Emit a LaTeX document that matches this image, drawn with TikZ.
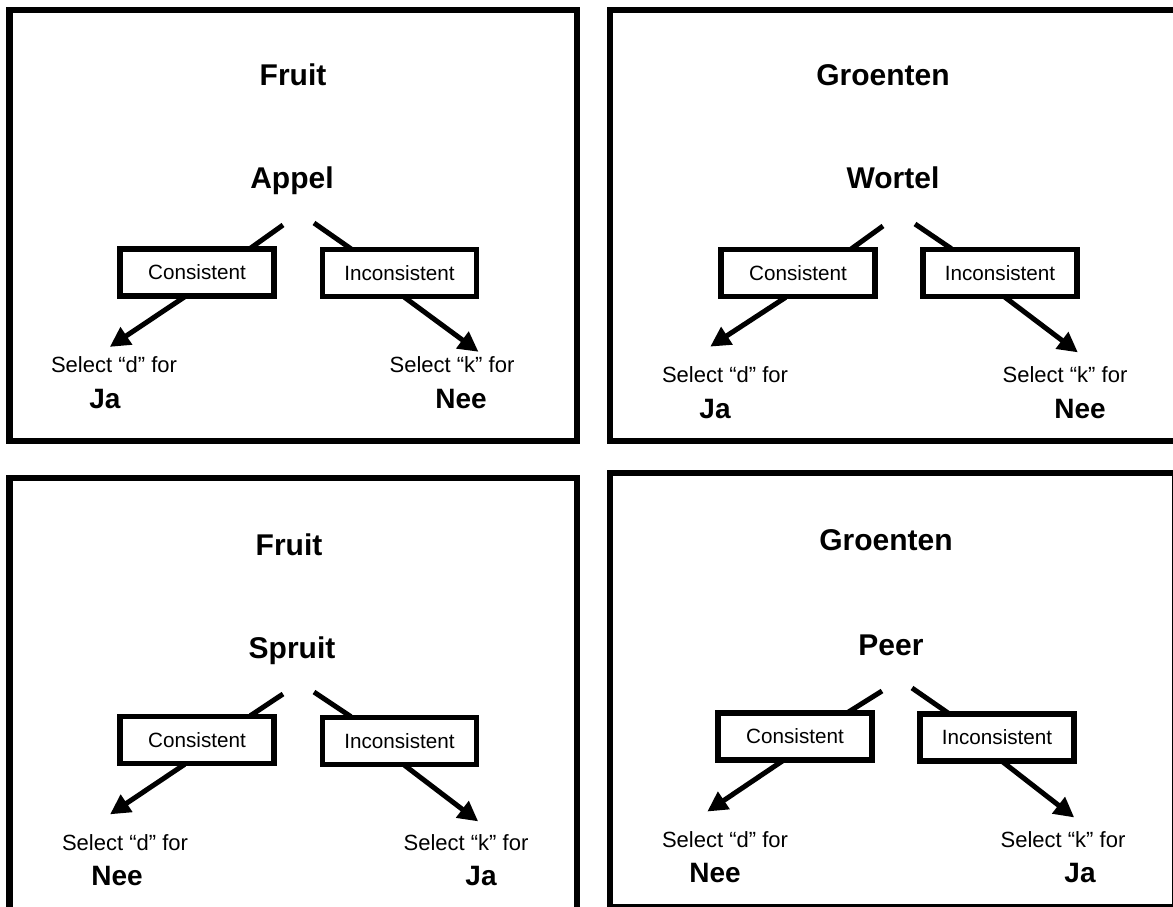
\documentclass[tikz,border=0pt]{standalone}
\usepackage{fontspec}
\setmainfont{Liberation Sans}
\usetikzlibrary{arrows.meta}

\begin{document}
\begin{tikzpicture}[
  x=0.75pt,y=-0.75pt,
  panel/.style={draw,line width=5pt},
  heading/.style={anchor=base,inner sep=0pt,font=\fontsize{22.5}{27}\selectfont\bfseries},
  choice/.style={rectangle,draw,line width=4pt,fill=white,minimum width=115.5pt,minimum height=35.25pt,inner sep=0pt,font=\fontsize{15.5}{18}\selectfont},
  prompt/.style={anchor=base,inner sep=3pt,font=\fontsize{16.5}{20}\selectfont},
  answer/.style={anchor=base,inner sep=0pt,font=\fontsize{21}{25}\selectfont\bfseries},
  stub/.style={line width=3.75pt,shorten >=-2.5pt},
  pick/.style={line width=3.75pt,shorten <=-2.5pt,-{Triangle[length=15pt,width=15pt]}},
]
\clip (0,0) rectangle (1173,906);
\fill[white] (0,0) rectangle (1173,906);

\draw[panel] (9.5,10) rectangle (577,441);
\node (tlcat) [heading] at (293,85) {Fruit};
\node (tlword) [heading] at (292,188) {Appel};
\node (tlcon) [choice] at (197,272.5) {Consistent};
\node (tlinc) [choice] at (399.5,273) {Inconsistent};
\node (tlsd) [prompt] at (114,372) {Select “d” for};
\node (tlsk) [prompt] at (452,372) {Select “k” for};
\node (tlleft) [answer] at (105,408) {Ja};
\node (tlright) [answer] at (461,408) {Nee};
\coordinate (tlL) at (283,225);
\coordinate (tlR) at (314,223);
\draw[stub] (tlL) -- (tlcon.25);
\draw[stub] (tlR) -- (tlinc.153);
\draw[pick,shorten >=6.6pt] (tlcon.240) -- (tlsd.133);
\draw[pick] (tlinc.286) -- (tlsk.25);

\draw[panel] (610,10) rectangle (1178,441);
\node (trcat) [heading] at (883,85) {Groenten};
\node (trword) [heading] at (893,188) {Wortel};
\node (trcon) [choice] at (798,273) {Consistent};
\node (trinc) [choice] at (1000,273) {Inconsistent};
\node (trsd) [prompt] at (725,382) {Select “d” for};
\node (trsk) [prompt] at (1065,382) {Select “k” for};
\node (trleft) [answer] at (715,418) {Ja};
\node (trright) [answer] at (1080,418) {Nee};
\coordinate (trL) at (883,226);
\coordinate (trR) at (915,224);
\draw[stub] (trL) -- (trcon.25);
\draw[stub] (trR) -- (trinc.153);
\draw[pick,shorten >=20.8pt] (trcon.240) -- (trsd.162);
\draw[pick,shorten >=11.7pt] (trinc.286) -- (trsk.26);

\draw[panel] (9.5,478) rectangle (577,915);
\node (blcat) [heading] at (289,555) {Fruit};
\node (blword) [heading] at (292,658) {Spruit};
\node (blcon) [choice] at (197,740) {Consistent};
\node (blinc) [choice] at (399.5,741) {Inconsistent};
\node (blsd) [prompt] at (125,850) {Select “d” for};
\node (blsk) [prompt] at (466,850) {Select “k” for};
\node (blleft) [answer] at (117,885) {Nee};
\node (blright) [answer] at (481,885) {Ja};
\coordinate (blL) at (283,694);
\coordinate (blR) at (314,692);
\draw[stub] (blL) -- (blcon.25);
\draw[stub] (blR) -- (blinc.153);
\draw[pick,shorten >=20.8pt] (blcon.240) -- (blsd.162);
\draw[pick,shorten >=10.4pt] (blinc.286) -- (blsk.28);

\draw[panel] (610,473) rectangle (1175,907);
\node (brcat) [heading] at (886,550) {Groenten};
\node (brword) [heading] at (891,655) {Peer};
\node (brcon) [choice] at (795,736.5) {Consistent};
\node (brinc) [choice] at (997,737.5) {Inconsistent};
\node (brsd) [prompt] at (725,847) {Select “d” for};
\node (brsk) [prompt] at (1063,847) {Select “k” for};
\node (brleft) [answer] at (715,882) {Nee};
\node (brright) [answer] at (1080,882) {Ja};
\coordinate (brL) at (882,691);
\coordinate (brR) at (912,688);
\draw[stub] (brL) -- (brcon.25);
\draw[stub] (brR) -- (brinc.153);
\draw[pick,shorten >=20.5pt] (brcon.240) -- (brsd.163);
\draw[pick,shorten >=11.4pt] (brinc.287) -- (brsk.28);
\end{tikzpicture}
\end{document}
